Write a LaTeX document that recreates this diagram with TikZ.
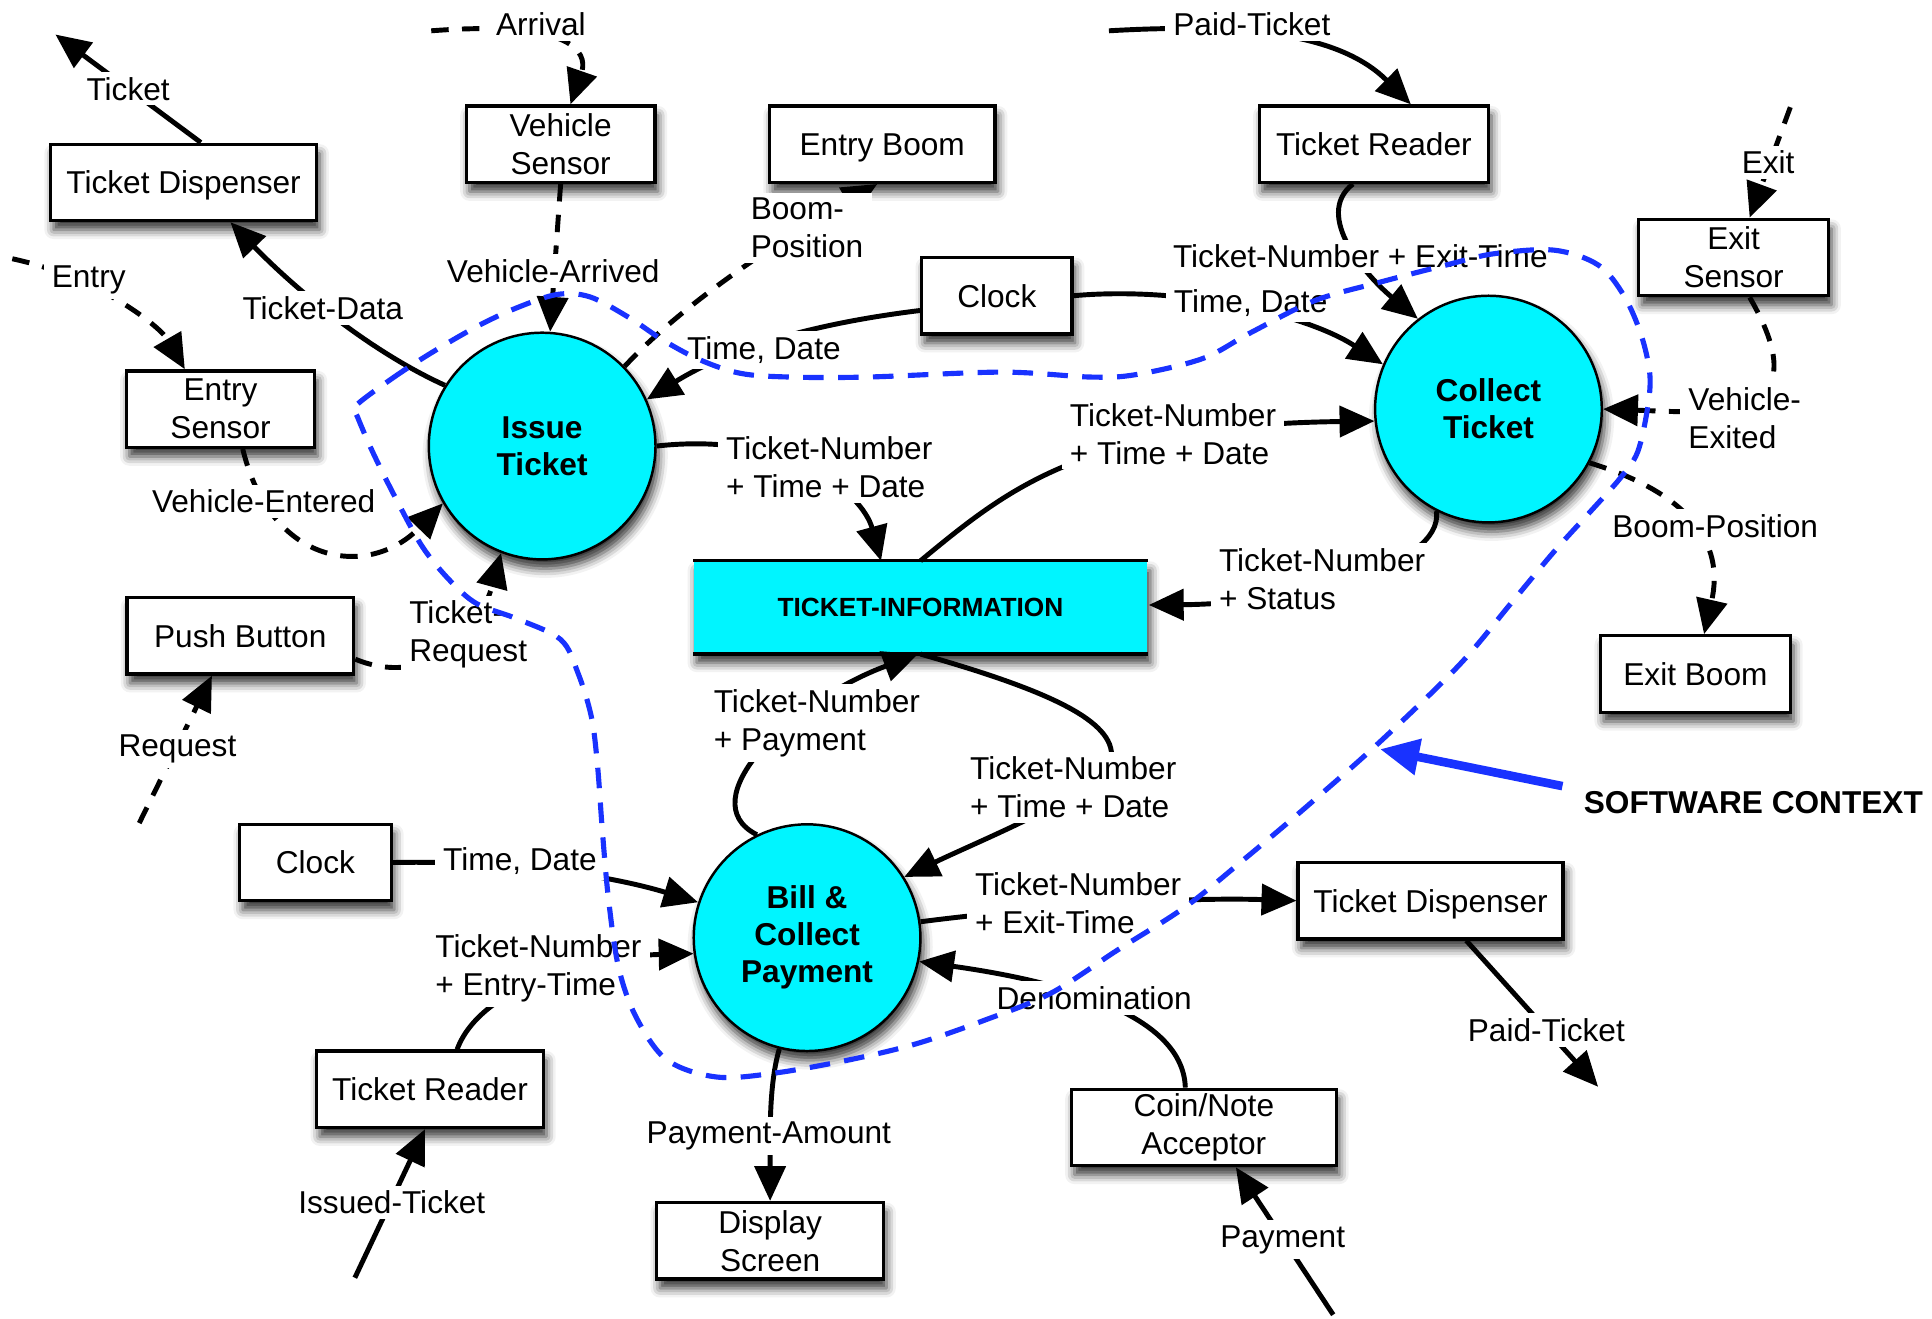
\documentclass[tikz,border=0pt]{standalone}
\usepackage{fontspec}
\setmainfont{Liberation Sans}
\usetikzlibrary{arrows.meta,calc,shadows.blur}
\definecolor{proccyan}{RGB}{0,245,255}
\definecolor{ctxblue}{RGB}{25,50,255}

\begin{document}
\begin{tikzpicture}[x=0.6pt,y=-0.6pt,
  font=\fontsize{15.4}{18.5}\selectfont,
  softshadow/.style={blur shadow={shadow xshift=1.5pt,shadow yshift=-4.5pt,shadow blur radius=4.5pt,shadow opacity=80}},
  box/.style={draw,line width=1.6pt,fill=white,minimum height=37.2pt,inner sep=1pt,align=center,softshadow},
  oneline/.style={text depth=0pt},
  proc/.style={circle,draw,line width=1.2pt,fill=proccyan,minimum size=110.4pt,inner sep=0pt,align=center,
    font=\fontsize{15.4}{18}\selectfont\bfseries,softshadow},
  flow/.style={line width=2.4pt,-{Triangle[length=17pt,width=15pt]}},
  event/.style={flow,dash pattern=on 8.5pt off 6.5pt},
  lbl/.style={fill=white,inner xsep=4pt,inner ysep=2.5pt,align=left},
]
\useasboundingbox (0,0) rectangle (1568,1070);

% terminators
\node[box,oneline,minimum width=129.6pt] (tdispA) at (149,148) {Ticket Dispenser};
\node[box,minimum width=91.8pt]  (vsens)  at (455,117) {Vehicle\\Sensor};
\node[box,oneline,minimum width=109.8pt] (eboom)  at (716,117) {Entry Boom};
\node[box,oneline,minimum width=111.6pt] (treadA) at (1115,117) {Ticket Reader};
\node[box,minimum width=92.4pt]  (xsens)  at (1407,209) {Exit\\Sensor};
\node[box,minimum width=91.8pt]  (esens)  at (179,332) {Entry\\Sensor};
\node[box,oneline,minimum width=73.2pt]  (clockA) at (809,240) {Clock};
\node[box,oneline,minimum width=110.4pt] (pbtn)   at (195,516) {Push Button};
\node[box,oneline,minimum width=92.4pt]  (xboom)  at (1376,547) {Exit Boom};
\node[box,oneline,minimum width=73.8pt]  (clockB) at (256,700) {Clock};
\node[box,oneline,minimum width=129pt]   (tdispB) at (1161,731) {Ticket Dispenser};
\node[box,oneline,minimum width=110.4pt] (treadB) at (349,884) {Ticket Reader};
\node[box,minimum width=129pt]   (coin)   at (977,915) {Coin/Note\\Acceptor};
\node[box,minimum width=110.4pt] (disp)   at (625,1007) {Display\\Screen};

% processes
\node[proc] (issue)   at (440,362) {Issue\\Ticket};
\node[proc] (collect) at (1208,332) {Collect\\Ticket};
\node[proc] (bill)    at (655,761) {Bill \&\\Collect\\Payment};

% data store
\node[fill=proccyan,minimum width=220.8pt,minimum height=45pt,softshadow,
  font=\bfseries\fontsize{12.8}{15}\selectfont] (tinfo) at (747,493) {TICKET-INFORMATION};
\draw[line width=1.6pt] (tinfo.north west) -- (tinfo.north east)
                        (tinfo.south west) -- (tinfo.south east);

% free ends
\coordinate (ticketOut) at (45,28);
\coordinate (entryIn) at (10,210);
\coordinate (arrivalIn) at (350,25);
\coordinate (paidIn) at (900,25);
\coordinate (exitIn) at (1453,87);
\coordinate (requestIn) at (113,668);
\coordinate (issuedIn) at (288,1037);
\coordinate (paymentIn) at (1082,1067);
\coordinate (paidOut) at (1297,882);
\coordinate (swTip) at (1120,608);

% flows
\draw[flow] ($(tdispA.north)+(14,0)$) -- (ticketOut);
\draw[event] (entryIn) .. controls (80,225) and (130,265) .. ($(esens.north)+(-29,0)$);
\draw[event] ($(esens.south)+(18,0)$) .. controls (220,460) and (300,470) .. (issue.210);
\draw[flow] (issue.148) .. controls (300,285) and (240,235) .. ($(tdispA.south)+(38,0)$);
\draw[event] (vsens.south) -- (issue.86);
\draw[event] (arrivalIn) .. controls (480,15) and (475,50) .. ($(vsens.north)+(8,0)$);
\draw[event] (issue.44) .. controls (560,240) and (650,185) .. ($(eboom.south)+(-4,0)$);
\draw[flow] ($(clockA.west)+(0,12)$) .. controls (640,265) and (580,290) .. (issue.24);
\draw[flow] (issue.0) .. controls (640,350) and (700,400) .. ($(tinfo.north)+(-32,0)$);
\draw[flow] (clockA.east) .. controls (960,232) and (1060,255) .. (collect.157);
\draw[flow] ($(treadA.south)+(-17,0)$) .. controls (1065,175) and (1110,225) .. (collect.128);
\draw[flow] (paidIn) .. controls (1020,18) and (1090,30) .. ($(treadA.north)+(30,0)$);
\draw[event] (exitIn) -- ($(xsens.north)+(13,0)$);
\draw[event] ($(xsens.south)+(13,0)$) .. controls (1480,345) and (1390,335) .. (collect.0);
\draw[event] (collect.-28) .. controls (1370,400) and (1400,440) .. ($(xboom.north)+(7,0)$);
\draw[flow] (tinfo.north) .. controls (820,395) and (880,345) .. (collect.186);
\draw[flow] (collect.243) .. controls (1172,460) and (1050,490) .. ($(tinfo.east)+(1,-2)$);
\draw[event] ($(pbtn.east)+(0,19)$) .. controls (350,560) and (390,510) .. (issue.249);
\draw[event] (requestIn) -- ($(pbtn.south)+(-23,0)$);
\draw[flow] (bill.116) .. controls (560,650) and (640,570) .. ($(tinfo.south)+(-2,0)$);
\draw[flow] (tinfo.south) .. controls (850,560) and (905,585) .. (902,615)
                         .. controls (900,640) and (800,680) .. (bill.32);
\draw[flow] (clockB.east) .. controls (420,698) and (500,712) .. (bill.162);
\draw[flow] ($(treadB.north)+(22,0)$) .. controls (390,800) and (480,776) .. (bill.188);
\draw[flow] (issuedIn) -- ($(treadB.south)+(-4,0)$);
\draw[flow] (bill.256) .. controls (624,880) and (625,920) .. (disp.north);
\draw[flow] ($(coin.north)+(-15,0)$) .. controls (960,820) and (850,795) .. (bill.-12);
\draw[flow] (paymentIn) -- ($(coin.south)+(26,0)$);
\draw[flow] (bill.8) .. controls (850,735) and (960,728) .. (tdispB.west);
\draw[flow] ($(tdispB.south)+(29,0)$) -- (paidOut);

% flow labels
\node[lbl] (l01) at (104,72) {Ticket};
\node[lbl] (l02) at (72,227) {Entry};
\node[lbl] (l03) at (214,407) {Vehicle-Entered};
\node[lbl] (l04) at (262,250) {Ticket-Data};
\node[lbl] (l05) at (449,220) {Vehicle-Arrived};
\node[lbl] (l06) at (439,20) {Arrival};
\node[lbl] (l07) at (655,185) {Boom-\\Position};
\node[lbl] (l08) at (620,284) {Time, Date};
\node[lbl] (l09) at (673,379) {Ticket-Number\\+ Time + Date};
\node[lbl] (l10) at (1015,246) {Time, Date};
\node[lbl] (l11) at (1104,208) {Ticket-Number + Exit-Time};
\node[lbl] (l12) at (1016,20) {Paid-Ticket};
\node[lbl] (l13) at (1435,132) {Exit};
\node[lbl] (l14) at (1416,339) {Vehicle-\\Exited};
\node[lbl] (l15) at (1392,427) {Boom-Position};
\node[lbl] (l16) at (952,352) {Ticket-Number\\+ Time + Date};
\node[lbl] (l17) at (1073,470) {Ticket-Number\\+ Status};
\node[lbl] (l18) at (380,515) {Ticket-\\Request};
\node[lbl] (l19) at (144,608) {Request};
\node[lbl] (l20) at (663,587) {Ticket-Number\\+ Payment};
\node[lbl] (l21) at (871,639) {Ticket-Number\\+ Time + Date};
\node[lbl] (l22) at (422,699) {Time, Date};
\node[lbl] (l23) at (437,786) {Ticket-Number\\+ Entry-Time};
\node[lbl] (l24) at (318,976) {Issued-Ticket};
\node[lbl] (l25) at (624,922) {Payment-Amount};
\node[lbl] (l26) at (888,810) {Denomination};
\node[lbl] (l27) at (1041,1006) {Payment};
\node[lbl] (l28) at (875,733) {Ticket-Number\\+ Exit-Time};
\node[lbl] (l29) at (1255,836) {Paid-Ticket};

% software context boundary
\draw[ctxblue,line width=2.5pt,dash pattern=on 10pt off 7pt]
  plot[smooth cycle,tension=0.55] coordinates {
  (288,330) (317,308) (349,287) (387,265) (419,250) (452,239) (479,241) (511,258)
  (538,276) (568,292) (601,303) (641,306) (704,306) (813,302) (885,306) (922,304)
  (976,291) (1015,270) (1067,244) (1120,229) (1174,215) (1212,206) (1261,203)
  (1297,215) (1318,240) (1332,272) (1339,304) (1337,332) (1329,367) (1315,388)
  (1290,416) (1261,448) (1226,490) (1184,540) (1120,602) (1060,655) (1009,698)
  (962,736) (907,771) (853,806) (799,828) (744,847) (690,860) (628,871) (581,874)
  (541,860) (516,825) (502,785) (494,731) (489,676) (485,622) (480,582) (469,546)
  (455,519) (419,502) (387,490) (365,471) (343,444) (322,406) (303,368) (290,338)};

\node[inner sep=0pt,font=\bfseries\fontsize{15.4}{18}\selectfont] (swctx) at (1423,651) {SOFTWARE CONTEXT};
\draw[ctxblue,line width=4.2pt,-{Triangle[length=19pt,width=17pt]}] ($(swctx.west)+(-17,-13)$) -- (swTip);
\end{tikzpicture}
\end{document}
